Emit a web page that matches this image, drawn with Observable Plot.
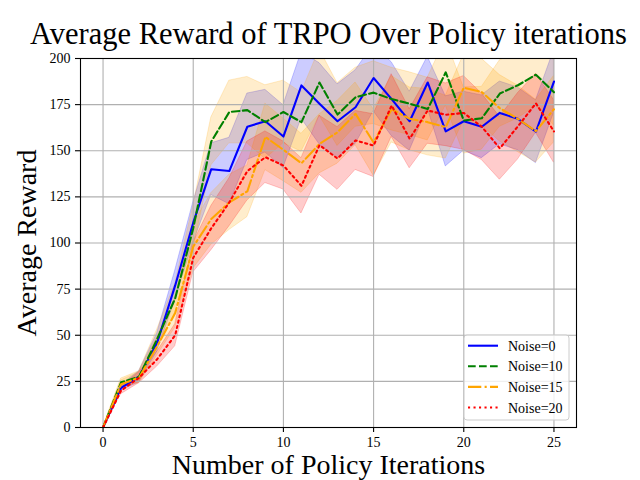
<!DOCTYPE html>
<html><head><meta charset="utf-8">
<script src="https://cdn.jsdelivr.net/npm/d3@7"></script>
<script src="https://cdn.jsdelivr.net/npm/@observablehq/plot@0.6"></script>
<style>body{margin:0;background:#fff}</style>
</head><body><div id="chart"></div>
<script>
const iterations = [0,1,2,3,4,5,6,7,8,9,10,11,12,13,14,15,16,17,18,19,20,21,22,23,24,25];

const noise0    = [0,21.5,27.5,46,77,111,140,139,163,166,157.7,185.4,175.5,166,173.6,189.4,178,166,187,160.5,166,163,170.5,167.3,160.3,187.5];
const noise0Std = [0,1.5,3,5,8,11,14,18,18,17,17,18,22,20,20,18,20,16,14,19,16,17,17,17,17,17];

const noise10    = [0,24.5,27.5,48,70,108,155,171,172,165.5,171,165.5,187,169.6,179,181.5,178,175.5,172.6,192.5,166.4,167.6,181,185.5,191.2,181.7];
const noise10Std = [0,2,3,5,8,12,13,17,18,20,17,16,18,17,16,17,17,17,17,18,18,17,18,18,17,18];

const noise15    = [0,23.5,27,44,62,98,113,122,128,157.5,150.5,143.2,153.7,160,170,154.5,172.5,167.3,165.5,162.8,184.2,181.8,173,167.3,160.6,172.5];
const noise15Std = [0,2,3,5,8,12,14,15,14,18,17,16,16,17,17,18,18,17,18,17,18,18,18,18,17,18];

const noise20    = [0,20,27,37,50,92,108,122,139,146.5,142,131,153,145.8,155.6,152.8,174.5,156.5,171.8,169.5,170.5,163,151.3,163.2,175.7,160.5];
const noise20Std = [0,2,3,4,6,8,12,13,16,14,13,15,16,17,16,17,17,16,18,17,20,18,17,18,16,17];

const seriesNames = ["Noise=0","Noise=10","Noise=15","Noise=20"];
const lineColors  = ["blue","green","orange","red"];
const bandColors  = ["blue","orange","orange","red"];
const dashes      = [null,"7.7,3.3","13.3,3.3,2.1,3.3","2.1,3.4"];
const xTicks = [0,5,10,15,20,25];
const yTicks = [0,25,50,75,100,125,150,175,200];

const titleText = "Average Reward of TRPO Over Policy iterations";
const xLabel = "Number of Policy Iterations";
const yLabel = "Average Reward";

const means = [noise0, noise10, noise15, noise20];
const stds  = [noise0Std, noise10Std, noise15Std, noise20Std];
const table = seriesNames.map((name, i) => iterations.map((x, j) => ({
  series: name, x, y: means[i][j], lo: means[i][j] - stds[i][j], hi: means[i][j] + stds[i][j]
})));

const bandMarks = table.map((rows, i) => Plot.areaY(rows, {
  x: "x", y1: "lo", y2: "hi", fill: bandColors[i], fillOpacity: 0.2,
  stroke: bandColors[i], strokeOpacity: 0.2, strokeWidth: 1, clip: true
}));
const lineMarks = table.map((rows, i) => Plot.line(rows, {
  x: "x", y: "y", stroke: lineColors[i], strokeWidth: 2.1,
  strokeDasharray: dashes[i] || undefined, clip: true
}));

const svg = Plot.plot({
  width: 640, height: 480,
  marginLeft: 80, marginRight: 64, marginTop: 58, marginBottom: 53,
  style: {fontFamily: "Liberation Serif", fontSize: "14px", background: "white", color: "black"},
  x: {domain: [-1.25, 26.25]},
  y: {domain: [0, 200]},
  marks: [
    ...bandMarks,
    Plot.gridX(xTicks, {stroke: "#b0b0b0", strokeOpacity: 1, strokeWidth: 1.1}),
    Plot.gridY(yTicks, {stroke: "#b0b0b0", strokeOpacity: 1, strokeWidth: 1.1}),
    ...lineMarks,
    Plot.axisX(xTicks, {tickSize: 5, tickPadding: 5, label: null, fontSize: 14, strokeWidth: 1.1}),
    Plot.axisY(yTicks, {tickSize: 5, tickPadding: 5, label: null, fontSize: 14, strokeWidth: 1.1}),
    Plot.frame({stroke: "black", strokeWidth: 1.1}),
    Plot.text([titleText], {text: d => d, frameAnchor: "top", textAnchor: "middle", lineAnchor: "middle", dy: -24, fontSize: 30.5, fill: "black"}),
    Plot.text([xLabel], {text: d => d, frameAnchor: "bottom", textAnchor: "middle", lineAnchor: "middle", dy: 38, fontSize: 28, fill: "black"}),
    Plot.text([yLabel], {text: d => d, frameAnchor: "left", textAnchor: "middle", lineAnchor: "middle", dx: -53, rotate: -90, fontSize: 28, fill: "black"})
  ]
});
document.getElementById("chart").appendChild(svg);

// legend (lower right)
const s = d3.select(svg);
const lg = s.append("g").attr("transform", "translate(464,335)")
  .attr("font-family", "Liberation Serif").attr("font-size", 14).attr("text-anchor", "start");
lg.append("rect").attr("x", 0).attr("y", 0).attr("width", 105).attr("height", 85).attr("rx", 3)
  .attr("fill", "white").attr("fill-opacity", 0.8).attr("stroke", "#cccccc").attr("stroke-width", 1);
seriesNames.forEach((name, i) => {
  const cy = 10.7 + i * 20.6;
  lg.append("line").attr("x1", 4).attr("x2", 34).attr("y1", cy).attr("y2", cy)
    .attr("stroke", lineColors[i]).attr("stroke-width", 2.1)
    .attr("stroke-dasharray", dashes[i] || null);
  lg.append("text").attr("x", 44).attr("y", cy + 5).attr("fill", "black")
    .attr("text-anchor", "start").text(name);
});
</script></body></html>
